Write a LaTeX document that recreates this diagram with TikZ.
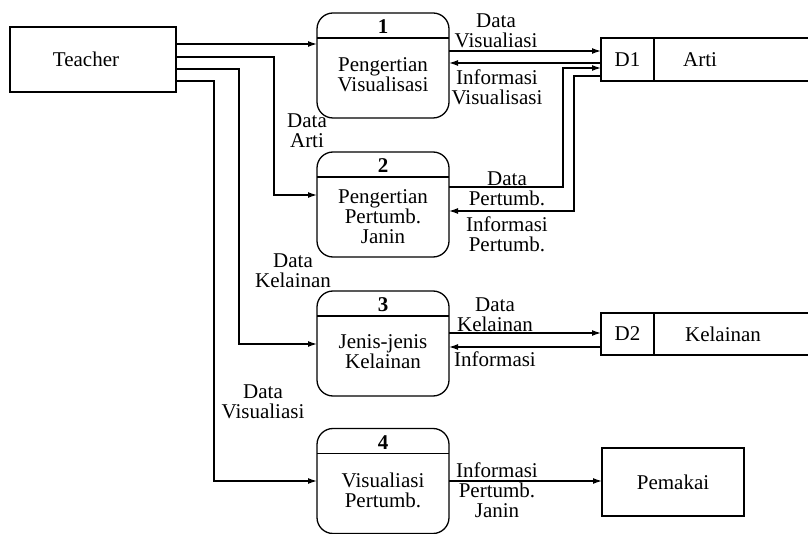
\documentclass[tikz,border=0pt]{standalone}
\usepackage{fontspec}
\setmainfont{Liberation Serif}
\usetikzlibrary{arrows.meta,calc}
\begin{document}
\begin{tikzpicture}[x=1pt,y=-1pt,
  font=\fontsize{21}{20}\selectfont,
  line width=1.3pt,
  flow/.style={-{Latex[length=9pt,width=6pt]}},
  ent/.style={draw, inner sep=0pt, outer sep=0pt},
  proc/.style={draw, rounded corners=16pt, minimum width=132pt,
    minimum height=105pt, inner sep=0pt, outer sep=0pt},
  procnum/.style={font=\fontsize{21}{20}\selectfont\bfseries, inner sep=0pt},
  proctext/.style={align=center, inner sep=0pt},
  storeid/.style={draw, minimum width=53pt, minimum height=43pt, inner sep=0pt, outer sep=0pt},
  lbl/.style={align=center, inner sep=0pt}]
\useasboundingbox (0,0) rectangle (808,534);

% external entities
\node[ent, minimum width=166pt, minimum height=65pt] (teacher) at (93,59.5) {Teacher\hspace*{14pt}};
\node[ent, minimum width=142pt, minimum height=68pt] (pemakai) at (673,482) {Pemakai};

% processes
\node[proc] (p1) at (383,65.5) {};
\node[proc] (p2) at (383,204.5) {};
\node[proc] (p3) at (383,343.5) {};
\node[proc] (p4) at (383,481) {};
\foreach \p in {p1,p2,p3,p4}
  \draw ($(\p.north west)+(0,25)$) -- ($(\p.north east)+(0,25)$);
\node[procnum] (n1) at ($(p1.north)+(0,14)$) {1};
\node[procnum] (n2) at ($(p2.north)+(0,14)$) {2};
\node[procnum] (n3) at ($(p3.north)+(0,14)$) {3};
\node[procnum] (n4) at ($(p4.north)+(0,14)$) {4};
\node[proctext] (t1) at ($(p1.center)+(0,9.5)$) {Pengertian\\Visualisasi};
\node[proctext] (t2) at ($(p2.center)+(0,12.5)$) {Pengertian\\Pertumb.\\Janin};
\node[proctext] (t3) at ($(p3.center)+(0,8.5)$) {Jenis-jenis\\Kelainan};
\node[proctext] (t4) at ($(p4.center)+(0,9)$) {Visualiasi\\Pertumb.};

% data stores (open on the right)
\node[storeid] (d1) at (627.5,59.5) {D1};
\node (d1name) at (700,59.5) {Arti};
\draw (d1.north east) -- (d1.north east -| 808,0);
\draw (d1.south east) -- (d1.south east -| 808,0);
\node[storeid, minimum height=42pt] (d2) at (627.5,334) {D2};
\node (d2name) at (723,334) {Kelainan};
\draw (d2.north east) -- (d2.north east -| 808,0);
\draw (d2.south east) -- (d2.south east -| 808,0);

% flows from Teacher
\draw[flow] (teacher.east |- 0,44) -- (p1.west |- 0,44);
\draw[flow] (teacher.east |- 0,57) -| (274,195) -- (p2.west |- 0,195);
\draw[flow] (teacher.east |- 0,69) -| (239,344) -- (p3.west |- 0,344);
\draw[flow] (teacher.east |- 0,81) -| (214,481) -- (p4.west |- 0,481);

% flows between processes and stores
\draw[flow] (p1.east |- 0,51) -- (d1.west |- 0,51);
\draw[flow] (d1.west |- 0,63) -- (p1.east |- 0,63);
\draw[flow] (p2.east |- 0,187) -| (563,68) -- (d1.west |- 0,68);
\draw[flow] (d1.west |- 0,76) -| (574,211) -- (p2.east |- 0,211);
\draw[flow] (p3.east |- 0,333) -- (d2.west |- 0,333);
\draw[flow] (d2.west |- 0,347) -- (p3.east |- 0,347);
\draw[flow] (p4.east |- 0,481) -- (pemakai.west |- 0,481);

% flow labels
\node[lbl] (l1) at (496,30.5) {Data\\Visualiasi};
\node[lbl] (l2) at (497,87) {Informasi\\Visualisasi};
\node[lbl] (l3) at (307,131) {Data\\Arti};
\node[lbl] (l4) at (507,188.5) {Data\\Pertumb.};
\node[lbl] (l5) at (507,234.5) {Informasi\\Pertumb.};
\node[lbl] (l6) at (293,271) {Data\\Kelainan};
\node[lbl] (l7) at (495,314.5) {Data\\Kelainan};
\node[lbl] (l8) at (495,359) {Informasi};
\node[lbl] (l9) at (263,401.5) {Data\\Visualiasi};
\node[lbl] (l10) at (497,490) {Informasi\\Pertumb.\\Janin};
\end{tikzpicture}
\end{document}
